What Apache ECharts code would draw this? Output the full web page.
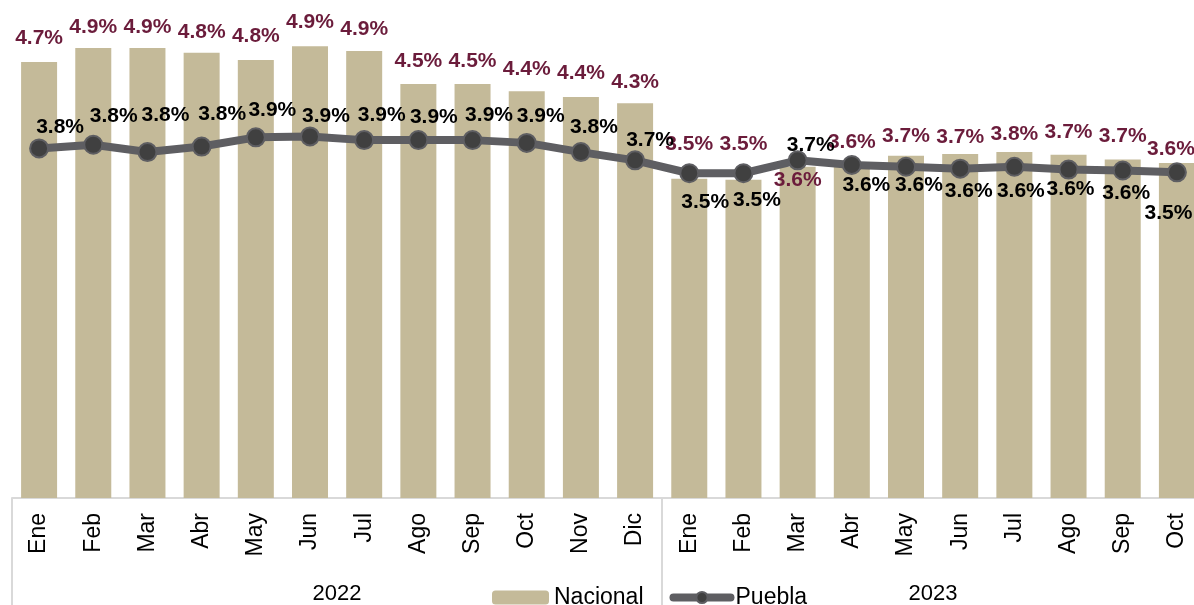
<!DOCTYPE html>
<html>
<head>
<meta charset="utf-8">
<script src="https://cdn.jsdelivr.net/npm/echarts@6/dist/echarts.min.js"></script>
<style>
html,body{margin:0;padding:0;background:#fff;overflow:hidden;}
#c{width:1194px;height:605px;}
</style>
</head>
<body>
<div id="c"></div>
<script>
// ---- data ----
const months = ['Ene','Feb','Mar','Abr','May','Jun','Jul','Ago','Sep','Oct','Nov','Dic',
                'Ene','Feb','Mar','Abr','May','Jun','Jul','Ago','Sep','Oct'];
const years = ['2022','2023'];
const monthsPerYear = [12, 10];
const nacional = [4.74,4.89,4.89,4.84,4.76,4.91,4.86,4.50,4.50,4.42,4.36,4.29,
                  3.47,3.46,3.60,3.64,3.72,3.74,3.76,3.73,3.68,3.64];
const puebla = [3.80,3.84,3.76,3.82,3.92,3.93,3.89,3.89,3.89,3.86,3.76,3.67,
                3.53,3.53,3.67,3.62,3.60,3.58,3.60,3.57,3.56,3.54];

// ---- label placement (style only) ----
const barLabelRise = [24,21,21,21,24,24,22,22.5,22.5,22.5,23.5,21.5,
                      35,35,-13,20.5,19.5,16.5,18,22.5,23.5,13.5];
const barLabelShift = [0,0,0,0,0,0,0,0,0,0,0,0, 0,0,0,0,0,0,0,0,0,-6];
const lineLabelOffset = [[21,-21],[20.5,-28.5],[18,-37],[20.5,-32],[16.5,-27],[16,-20.5],
                         [17.5,-24.5],[15.5,-22.5],[16.5,-24.5],[14,-27],[13,-25],[15,-20],
                         [16,29],[13.5,27],[13,-15.5],[14.5,20.5],[13,18.5],[8.5,23],
                         [6.5,24],[2,20],[3.5,23],[-8.5,41]];

const FONT = 'Liberation Sans, Arial, sans-serif';
const pct = p => p.value.toFixed(1) + '%';

// year group boundaries and centres in category units
const yearBounds = [0];
monthsPerYear.forEach(n => yearBounds.push(yearBounds[yearBounds.length-1] + n));
const yearCenters = years.map((y,i) => (yearBounds[i] + yearBounds[i+1]) / 2);

const barData = nacional.map((v,i) => ({
  value: v,
  label: { offset: [barLabelShift[i], -barLabelRise[i]] }
}));
const lineData = puebla.map((v,i) => ({
  value: v,
  label: { offset: lineLabelOffset[i] }
}));

const chart = echarts.init(document.getElementById('c'), null, {renderer:'canvas'});
chart.setOption({
  animation: false,
  backgroundColor: '#fff',
  grid: { left: 12, width: 1192, top: 38, height: 460, containLabel: false, outerBoundsMode: 'none' },
  legend: {
    data: ['Nacional', {name:'Puebla'}],
    left: 492, top: 586, padding: 0,
    itemWidth: 57, itemHeight: 14, itemGap: 26,
    lineStyle: { width: 8, cap: 'round' },
    textStyle: { fontFamily: FONT, fontSize: 23, color: '#000' }
  },
  xAxis: [
    {
      type: 'category', data: months, position: 'bottom',
      axisLine: { show: true, lineStyle: { color: '#d9d9d9', width: 2 } },
      axisTick: { show: false },
      axisLabel: { rotate: 90, interval: 0, margin: 15, fontFamily: FONT, fontSize: 23, color: '#000' }
    },
    {
      type: 'value', position: 'bottom',
      min: 0, max: yearBounds[yearBounds.length-1],
      axisLine: { show: false },
      splitLine: { show: false },
      axisTick: { show: true, length: 107, customValues: yearBounds, lineStyle: { color: '#d9d9d9', width: 2 } },
      axisLabel: {
        customValues: yearCenters, margin: 85, fontFamily: FONT, fontSize: 22, color: '#000',
        formatter: v => years[yearCenters.indexOf(v)] || ''
      }
    }
  ],
  yAxis: { type: 'value', min: 0, max: 5, show: false, splitLine: { show: false } },
  series: [
    {
      name: 'Nacional', type: 'bar', data: barData, xAxisIndex: 0,
      barWidth: 36,
      itemStyle: { color: '#C4BA99' },
      label: {
        show: true, position: 'top', distance: 0, verticalAlign: 'middle',
        formatter: pct, fontFamily: FONT, fontSize: 21, fontWeight: 'bold', color: '#6B1C3B'
      }
    },
    {
      name: 'Puebla', type: 'line', data: lineData, xAxisIndex: 0,
      symbol: 'circle', symbolSize: 18,
      lineStyle: { color: '#5E5E62', width: 8 },
      itemStyle: { color: '#404040', borderColor: '#5E5E62', borderWidth: 2 },
      label: {
        show: true, position: 'inside',
        formatter: pct, fontFamily: FONT, fontSize: 21, fontWeight: 'bold', color: '#000'
      },
      z: 3
    }
  ]
});
</script>
</body>
</html>
